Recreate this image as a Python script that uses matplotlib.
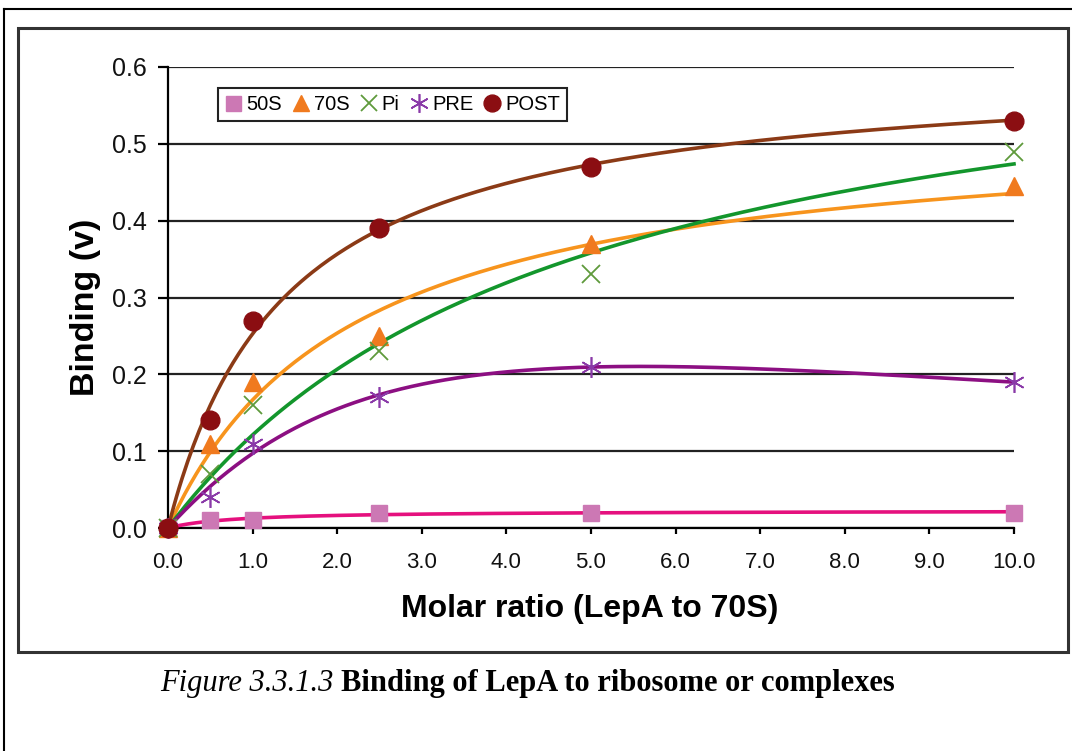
import numpy as np
import matplotlib.pyplot as plt
from matplotlib.patches import Rectangle
from matplotlib.lines import Line2D

# molar ratio (LepA to 70S)
ratio = [0.0, 0.5, 1.0, 2.5, 5.0, 10.0]

# binding values
b_50s = [0.0, 0.01, 0.01, 0.02, 0.02, 0.02]
b_70s = [0.0, 0.11, 0.19, 0.25, 0.37, 0.445]
b_pi = [0.0, 0.07, 0.16, 0.23, 0.33, 0.49]
b_pre = [0.0, 0.04, 0.11, 0.17, 0.21, 0.19]
b_post = [0.0, 0.14, 0.27, 0.39, 0.47, 0.53]

labels = ["50S", "70S", "Pi", "PRE", "POST"]


def trendline(x, y, inhibition=False):
    # least squares fit of y = a*x / (1 + b*x + c*x^2)
    # (c = 0 -> plain hyperbolic binding curve)
    x = np.asarray(x)
    y = np.asarray(y)
    best = None
    cs = np.linspace(0, 0.08, 81) if inhibition else [0.0]
    for b in np.linspace(0.02, 3, 300):
        for c in cs:
            f = x / (1 + b * x + c * x ** 2)
            a = f @ y / (f @ f)
            sse = ((y - a * f) ** 2).sum()
            if best is None or sse < best[0]:
                best = (sse, a, b, c)
    _, a, b, c = best
    xs = np.linspace(0, 10, 300)
    return xs, a * xs / (1 + b * xs + c * xs ** 2)


fig = plt.figure(figsize=(10.72, 7.51), dpi=100)
plt.rcParams['font.family'] = ['Liberation Sans', 'DejaVu Sans']

ax = fig.add_axes([0.1567, 0.2969, 0.7892, 0.6139])

series = [
    (b_50s, "#e5107e", False, dict(marker="s", color="#cc78b4", ms=12)),
    (b_70s, "#f7941d", False, dict(marker="^", color="#f07a1e", ms=13)),
    (b_pi, "#13962c", False, dict(marker="x", color="#5f9a3c", ms=13, mew=1.3)),
    (b_pre, "#8c0f82", True, dict(marker=(6, 2, 0), color="#8a3aa8", ms=15, mew=1.2)),
    (b_post, "#8b3a16", False, dict(marker="o", color="#8b0e12", ms=13.5)),
]

for i, (vals, lc, inhib, mk) in enumerate(series):
    xs, ys = trendline(ratio, vals, inhib)
    ax.plot(xs, ys, color=lc, lw=2.6, zorder=3, clip_on=False)
    ax.plot(ratio, vals, ls="none", zorder=4, clip_on=False, label=labels[i], **mk)

ax.set_xlim(0, 10)
ax.set_ylim(0, 0.6)
ax.set_xticks(np.arange(0, 11, 1))
ax.set_xticklabels([f"{v:.1f}" for v in range(0, 11)], fontsize=16, color="#111111")
ax.set_yticks(np.arange(0, 0.61, 0.1))
ax.set_yticklabels([f"{v:.1f}" for v in np.arange(0, 0.61, 0.1)], fontsize=18, color="#111111")
ax.yaxis.grid(True, color="#222222", lw=1.6)
ax.set_axisbelow(True)
for s in ["top", "right"]:
    ax.spines[s].set_visible(False)
ax.spines["left"].set_linewidth(1.6)
ax.spines["bottom"].set_linewidth(1.6)
ax.tick_params(axis="y", length=7, width=1.6, pad=8)
ax.tick_params(axis="x", length=4.5, width=1.6, pad=13)

ax.text(0.499, -0.175, "Molar ratio (LepA to 70S)", transform=ax.transAxes,
        fontsize=23, fontweight="bold", ha="center", va="center")
ax.text(-0.097, 0.479, "Binding (v)", transform=ax.transAxes, rotation=90,
        fontsize=24.5, fontweight="bold", ha="center", va="center")

leg = ax.legend(loc="upper left", bbox_to_anchor=(0.059, 0.955), ncol=5, fontsize=14.5,
                frameon=True, fancybox=False, edgecolor="#222222", framealpha=1,
                handlelength=0.8, handletextpad=0.25, columnspacing=0.55,
                borderpad=0.35, borderaxespad=0, markerscale=0.9)
leg.get_frame().set_linewidth(1.5)

# inner chart frame
fig.patches.append(Rectangle((18 / 1072, 1 - 652 / 751), 1050 / 1072, 624 / 751,
                             transform=fig.transFigure, fill=False, ec="#333333", lw=2.2))
# outer page frame
fig.lines.append(Line2D([4 / 1072, 4 / 1072], [0, 1 - 9 / 751], transform=fig.transFigure,
                        color="black", lw=1.5))
fig.lines.append(Line2D([4 / 1072, 1], [1 - 9 / 751, 1 - 9 / 751], transform=fig.transFigure,
                        color="black", lw=1.5))

cap_y = 1 - 683 / 751
t1 = fig.text(160 / 1072, cap_y, "Figure 3.3.1.3 ", family="Liberation Serif", style="italic",
              fontsize=22, va="center", ha="left")
fig.canvas.draw()
bb = t1.get_window_extent()
fig.text(bb.x1 / fig.bbox.width, cap_y, "Binding of LepA to ribosome or complexes",
         family="Liberation Serif", fontweight="bold", fontsize=22, va="center", ha="left")

fig.savefig("out.png", dpi=100)
